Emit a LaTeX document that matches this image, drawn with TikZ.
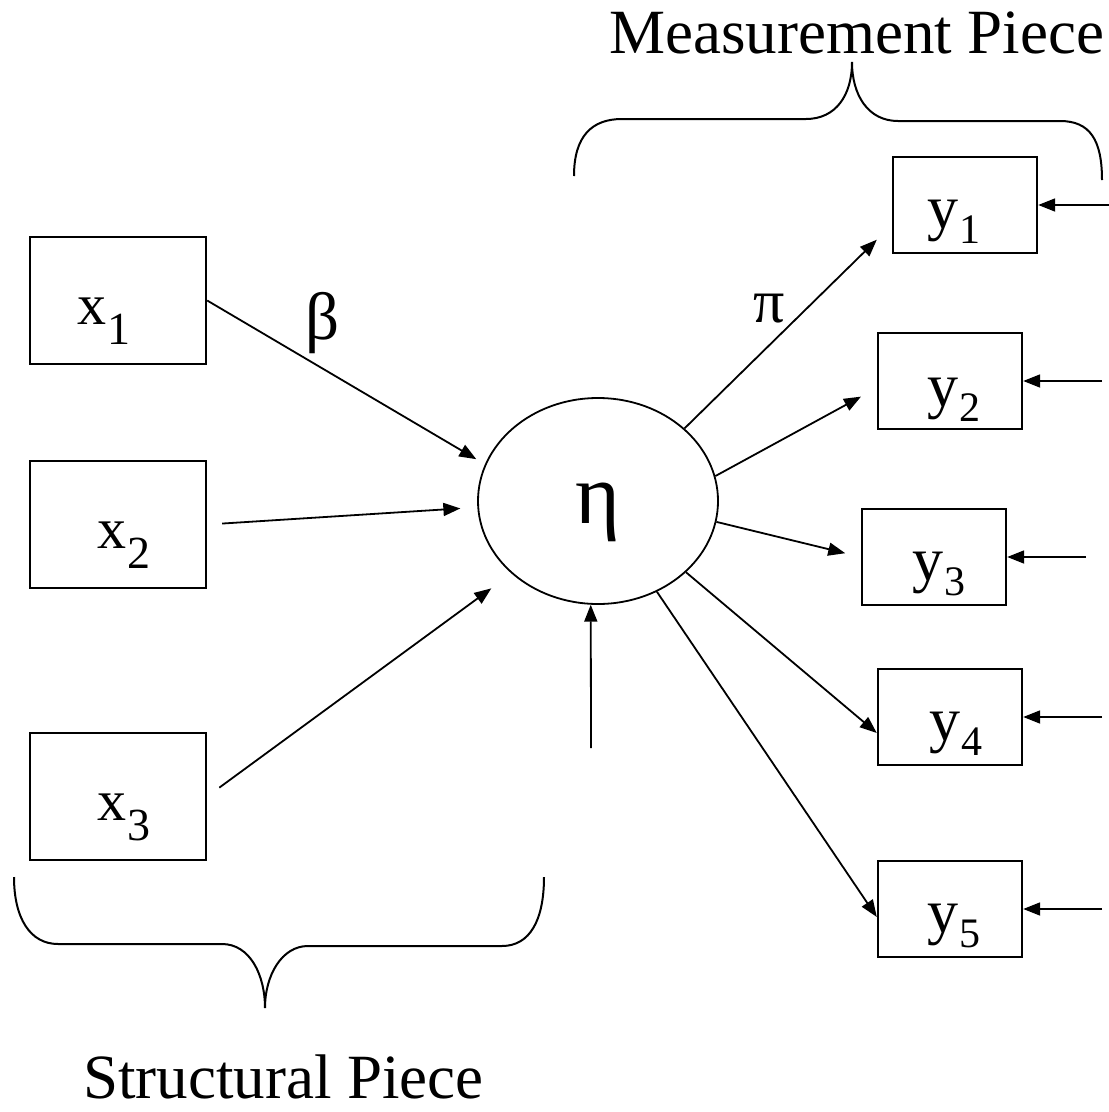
\documentclass[tikz,border=0pt]{standalone}
\usepackage{fontspec}
\setmainfont{Liberation Serif}
\usetikzlibrary{arrows.meta,shapes.geometric}
\newcommand\xsub[2]{#1\kern1pt\raisebox{-20pt}{\fontsize{46}{46}\selectfont #2}}
\newcommand\ysub[2]{#1\kern1pt\raisebox{-15pt}{\fontsize{42}{42}\selectfont #2}}
\begin{document}
\begin{tikzpicture}[x=1pt,y=-1pt,
  box/.style={draw, line width=2.4pt, minimum width=176pt, minimum height=127pt, inner sep=0pt},
  ybox/.style={draw, line width=2.4pt, minimum width=144pt, minimum height=96pt, inner sep=0pt},
  arr/.style={line width=1.8pt, -{Triangle[length=17pt,width=13pt]}},
  lab/.style={inner sep=0pt, anchor=base west, font=\fontsize{58}{58}\selectfont},
  ylab/.style={inner sep=0pt, anchor=base west, font=\fontsize{62}{62}\selectfont},
  big/.style={inner sep=0pt, anchor=base west, font=\fontsize{63}{63}\selectfont},
  brace/.style={line width=2pt}
]
\useasboundingbox (0,0) rectangle (1109,1112);

% boxes
\node[box] (x1) at (118,300.5) {};
\node[box] (x2) at (118,524.5) {};
\node[box] (x3) at (118,796.5) {};
\node[ybox] (y1) at (965,205) {};
\node[ybox] (y2) at (950,381) {};
\node[ybox] (y3) at (934,557) {};
\node[ybox] (y4) at (950,717) {};
\node[ybox] (y5) at (950,909) {};
\node[draw, ellipse, line width=1.8pt, minimum width=240pt, minimum height=206pt, inner sep=0pt] (eta) at (598,501) {};

% labels
\node[lab] (x1t) at (77,324) {\xsub{x}{1}};
\node[lab] (x2t) at (97,548) {\xsub{x}{2}};
\node[lab] (x3t) at (97,820) {\xsub{x}{3}};
\node[ylab] (y1t) at (927,228) {\ysub{y}{1}};
\node[ylab] (y2t) at (927,406) {\ysub{y}{2}};
\node[ylab] (y3t) at (912,580) {\ysub{y}{3}};
\node[ylab] (y4t) at (929,740) {\ysub{y}{4}};
\node[ylab] (y5t) at (927,932) {\ysub{y}{5}};
\node[inner sep=0pt, font=\fontsize{86}{86}\selectfont] (etat) at (597.5,512) {η};
\node[inner sep=0pt, anchor=base west, font=\fontsize{67}{67}\selectfont] (beta) at (305,339) {β};
\node[ylab] (pi) at (753,322) {π};
\node[big] (mp) at (609,53) {Measurement Piece};
\node[big] (sp) at (83,1098) {Structural Piece};

% error terms
\coordinate (e0) at (591,748);
\coordinate (e1) at (1109,205);
\coordinate (e2) at (1102,381);
\coordinate (e3) at (1086,557);
\coordinate (e4) at (1102,717);
\coordinate (e5) at (1102,909);

% structural arrows
\draw[arr, shorten >=10pt] (x1.east) -- (eta.162);
\draw[arr, shorten <=15pt, shorten >=17pt] (x2.east) -- (eta.183);
\draw[arr, shorten <=15pt, shorten >=25pt] (x3.east) -- (eta.220);
\draw[arr] (e0) -- (eta.266);

% measurement arrows
\draw[arr, shorten >=21pt] (eta.40) -- ([yshift=-20pt]y1.west);
\draw[arr, shorten >=18pt] (eta.12) -- ([yshift=-7pt]y2.west);
\draw[arr, shorten >=16pt] (eta.-10) -- (y3.west);
\draw[arr] (eta.-39) -- ([yshift=-16pt]y4.west);
\draw[arr] (eta.-57.5) -- ([yshift=-8pt]y5.west);

% error arrows
\draw[arr] (e1) -- (y1.east);
\draw[arr] (e2) -- (y2.east);
\draw[arr] (e3) -- (y3.east);
\draw[arr] (e4) -- (y4.east);
\draw[arr] (e5) -- (y5.east);

% braces
\draw[brace] (574,176) .. controls (574,136) and (592,119) .. (622,119) -- (806,119)
  .. controls (836,119) and (852,95) .. (852,62)
  .. controls (852,95) and (868,121) .. (898,121) -- (1060,121)
  .. controls (1090,121) and (1102,140) .. (1102,180);
\draw[brace] (14,877) .. controls (14,918) and (30,944) .. (58,944) -- (222,944)
  .. controls (250,944) and (265,975) .. (265,1008)
  .. controls (265,975) and (282,946) .. (308,946) -- (502,946)
  .. controls (530,946) and (544,920) .. (544,877);
\end{tikzpicture}
\end{document}
